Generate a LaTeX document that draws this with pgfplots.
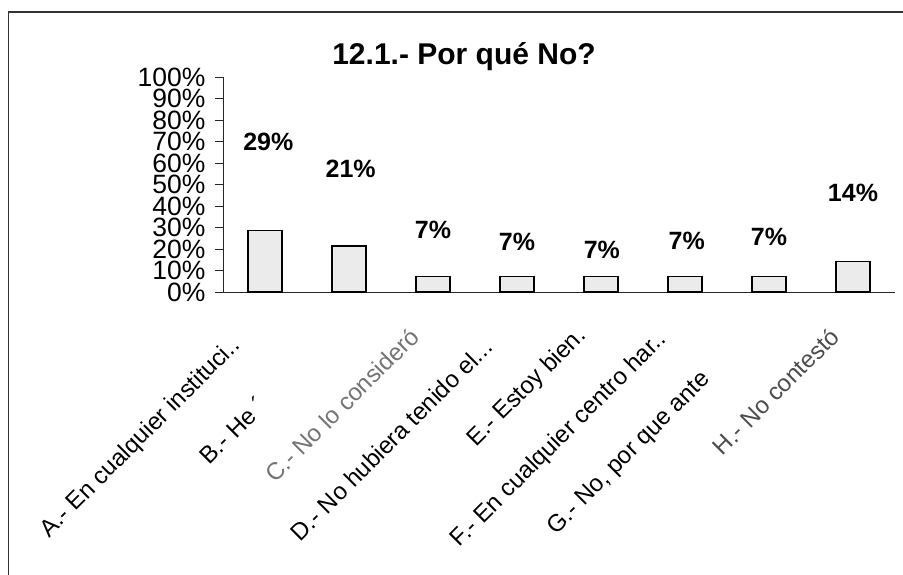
\documentclass[border=0pt]{standalone}
\usepackage{fontspec}
\setmainfont{Liberation Sans}
\usepackage{pgfplots}
\pgfplotsset{compat=1.18}
\begin{document}
\begin{tikzpicture}[x=1pt,y=1pt]
\useasboundingbox (0,0) rectangle (903,575);
\draw[line width=1.3pt, black!80] (8.5,-20) -- (8.5,563) -- (930,563);
\node[font=\fontsize{30}{30}\selectfont\bfseries] at (464,518) {12.1.- Por qué No?};
\begin{axis}[at={(223pt,283pt)}, anchor=south west, scale only axis,
  width=672pt, height=215pt,
  xmin=-0.5, xmax=7.5, ymin=0, ymax=100,
  axis x line*=bottom, axis y line*=left,
  axis line style={line width=0.9pt, black!85},
  tick align=outside,
  major tick length=8pt, minor tick length=8pt,
  ytick={0,10,20,30,40,50,60,70,80,90,100},
  yticklabels={0\%,10\%,20\%,30\%,40\%,50\%,60\%,70\%,80\%,90\%,100\%},
  ytick style={line width=0.9pt, black!85},
  xtick={0,1,2,3,4,5,6,7},
  xtick style={draw=none},
  minor xtick={-0.5,0.5,1.5,2.5,3.5,4.5,5.5,6.5,7.5},
  minor x tick style={line width=0.9pt, black!85},
  xticklabels={
    {A.- En cualquier instituci.{}.\hspace*{14pt}},
    {B.- He ´\hspace*{97pt}},
    {\color{black!55}C.- No lo consideró},
    {D.- No hubiera tenido el.{}.{}.\hspace*{15pt}},
    {E.- Estoy bien.},
    {F.- En cualquier centro har.{}.\hspace*{5pt}},
    {G.- No, por que ante\hspace*{62pt}},
    {\color{black!70}H.- No contestó}},
  xticklabel style={font=\fontsize{24}{22}\selectfont, xshift=-16pt, yshift=-30pt, rotate=45, anchor=east},
  yticklabel style={font=\fontsize{26.5}{22}\selectfont, anchor=east, xshift=-6pt},
  ybar, bar width=34pt,
  clip=false,
]
\addplot[draw=black, line width=1.4pt, fill=black!8] coordinates {
  (0,28.57) (1,21.43) (2,7.14) (3,7.14) (4,7.14) (5,7.14) (6,7.14) (7,14.29)};
\begin{scope}[every node/.style={font=\fontsize{25}{25}\selectfont\bfseries}]
\node at (axis cs:0.04,69.8) {29\%};
\node at (axis cs:1.02,57.2) {21\%};
\node at (axis cs:2.0,28.8) {7\%};
\node at (axis cs:3.0,23.3) {7\%};
\node at (axis cs:4.01,19.5) {7\%};
\node at (axis cs:5.02,23.7) {7\%};
\node at (axis cs:6.0,25.6) {7\%};
\node at (axis cs:7.0,46.0) {14\%};
\end{scope}
\end{axis}
\end{tikzpicture}
\end{document}
